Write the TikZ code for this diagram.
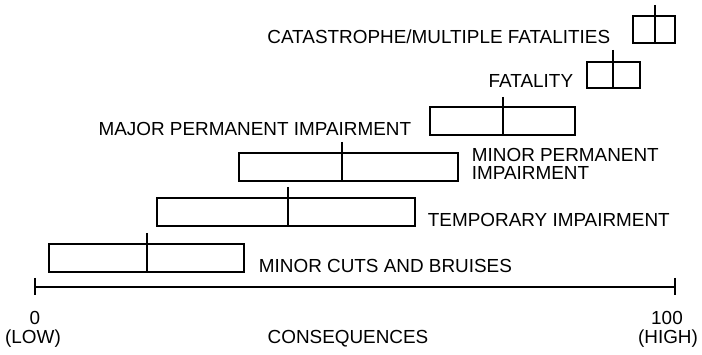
\documentclass[tikz,border=0pt]{standalone}
\usepackage{fontspec}
\setmainfont{Liberation Sans}
\usetikzlibrary{calc}

\begin{document}
\begin{tikzpicture}[x=1pt,y=-1pt,
  rangebox/.style={draw=black,line width=1.4pt,inner sep=0pt,minimum height=28pt},
  marker/.style={draw=black,line width=1.6pt},
  axisline/.style={draw=black,line width=2.8pt},
  axistick/.style={draw=black,line width=2pt},
  lbl/.style={font=\fontsize{18.9}{18}\selectfont,inner sep=0pt,text=black}
]
\useasboundingbox (0,0) rectangle (702,355);
% ranges of consequence, low to high
\node[rangebox,minimum width=195pt] (cuts) at (146.5,258) {};
\node[rangebox,minimum width=258pt] (temp) at (286,212) {};
\node[rangebox,minimum width=219pt] (minperm) at (348.5,167) {};
\node[rangebox,minimum width=145pt] (majperm) at (502.5,121) {};
\node[rangebox,minimum width=53pt,minimum height=26pt] (fatal) at (613.5,75) {};
\node[rangebox,minimum width=42pt,minimum height=27pt] (catas) at (654,29.5) {};
% typical value in each range
\coordinate (cutsTop) at (147,233);
\coordinate (tempTop) at (288,187);
\coordinate (minpermTop) at (342,142);
\coordinate (majpermTop) at (503,97);
\coordinate (fatalTop) at (613,50);
\coordinate (catasTop) at (655,5);
\draw[marker] (cutsTop) -- (cutsTop |- cuts.south);
\draw[marker] (tempTop) -- (tempTop |- temp.south);
\draw[marker] (minpermTop) -- (minpermTop |- minperm.south);
\draw[marker] (majpermTop) -- (majpermTop |- majperm.south);
\draw[marker] (fatalTop) -- (fatalTop |- fatal.south);
\draw[marker] (catasTop) -- (catasTop |- catas.south);
% labels
\node[lbl,anchor=base west] (cutsLbl) at ([xshift=14pt]cuts.south east) {MINOR CUTS AND BRUISES};
\node[lbl,anchor=base west] (tempLbl) at ([xshift=12pt]temp.south east) {TEMPORARY IMPAIRMENT};
\node[lbl,anchor=north west,align=left] (minpermLbl) at ([xshift=13pt,yshift=4pt]minperm.north east) {MINOR PERMANENT\\IMPAIRMENT};
\node[lbl,anchor=base east] (majpermLbl) at ([xshift=-18pt]majperm.south west) {MAJOR PERMANENT IMPAIRMENT};
\node[lbl,anchor=base east] (fatalLbl) at ([xshift=-13pt,yshift=1pt]fatal.south west) {FATALITY};
\node[lbl,anchor=base east] (catasLbl) at ([xshift=-22pt]catas.south west) {CATASTROPHE/MULTIPLE FATALITIES};
% axis
\coordinate (lo) at (35,287);
\coordinate (hi) at (675,287);
\draw[axisline] (lo) -- (hi);
\draw[axistick] ([yshift=9pt]lo) -- ([yshift=-8pt]lo);
\draw[axistick] ([yshift=9pt]hi) -- ([yshift=-8pt]hi);
\node[lbl,anchor=base] (zero) at ([yshift=-38pt]lo) {0};
\node[lbl,anchor=base] (low) at ([xshift=-2pt,yshift=-57pt]lo) {(LOW)};
\node[lbl,anchor=base] (hundred) at ([xshift=-8pt,yshift=-38pt]hi) {100};
\node[lbl,anchor=base] (high) at ([xshift=-7pt,yshift=-57pt]hi) {(HIGH)};
\node[lbl,anchor=base] (conseq) at ($(lo)!0.5!(hi)+(-7,57)$) {CONSEQUENCES};
\end{tikzpicture}
\end{document}
